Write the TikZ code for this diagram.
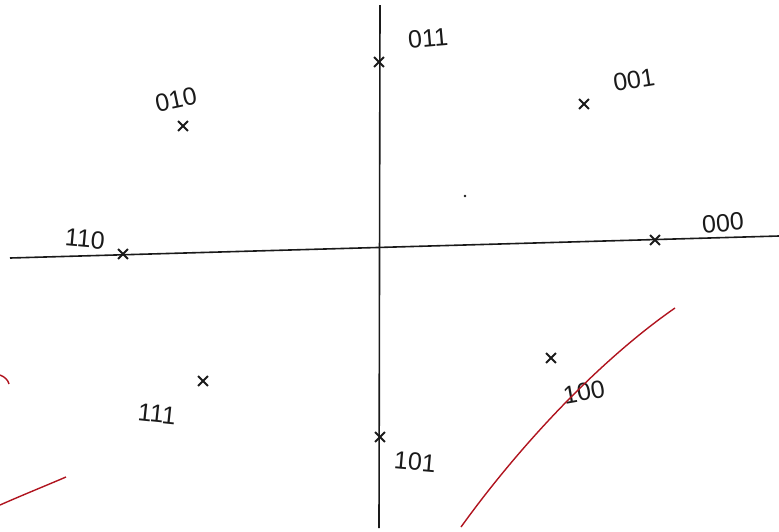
\documentclass[tikz,border=0pt]{standalone}
\usepackage{fontspec}
\setmainfont{Liberation Sans}
\usepackage{xcolor}
\usetikzlibrary{shapes.misc}
\definecolor{inkblack}{HTML}{1A1A1A}
\definecolor{inkred}{HTML}{B0141F}

\tikzset{
  axis/.style={inkblack, line width=1.6pt},
  xmark/.style={cross out, draw=inkblack, line width=1.8pt, minimum size=8pt, inner sep=0pt},
  bitlabel/.style={inkblack, font=\fontsize{25}{25}\selectfont, inner sep=0pt},
  redcurve/.style={inkred, line width=1.4pt}
}

\begin{document}
\begin{tikzpicture}[x=1pt,y=-1pt]
  %% 1 unit = 1 px of the sketch, y pointing down
  \useasboundingbox (0,0) rectangle (779,531);

  % Axes (slightly tilted, as drawn by hand)
  \coordinate (xl) at (10,258);
  \coordinate (xr) at (779,236);
  \coordinate (yt) at (380,5);
  \coordinate (yb) at (379,528);
  \draw[axis] (xl) -- (xr);
  \draw[axis] (yt) -- (yb);

  % Constellation points
  \foreach \name/\x/\y in {p000/655/240, p001/584/104, p011/379/62,
      p010/183/126, p110/123/254, p111/203/381, p101/380/437, p100/551/358}{
    \node[xmark] (\name) at (\x,\y) {};
  }

  % Bit labels
  \node[bitlabel, rotate=5]  (l011) at (428,38)  {011};
  \node[bitlabel, rotate=9]  (l001) at (634,80)  {001};
  \node[bitlabel, rotate=12] (l010) at (176,100) {010};
  \node[bitlabel, rotate=-5] (l110) at (85,239)  {110};
  \node[bitlabel, rotate=5]  (l000) at (723,223) {000};
  \node[bitlabel, rotate=-6] (l111) at (157,414) {111};
  \node[bitlabel, rotate=-5] (l101) at (415,462) {101};
  \node[bitlabel, rotate=10] (l100) at (584,392) {100};

  % small speck near the centre
  \fill[inkblack] (465,196) circle (1.3);

  % Red pen strokes
  \draw[redcurve] (461,527) .. controls (520,445) and (600,360) .. (675,308);
  \draw[redcurve] (0,505) .. controls (25,494) and (45,486) .. (66,477);
  \draw[redcurve] (0,375) .. controls (5,377) and (8,380) .. (9,384);
\end{tikzpicture}
\end{document}
